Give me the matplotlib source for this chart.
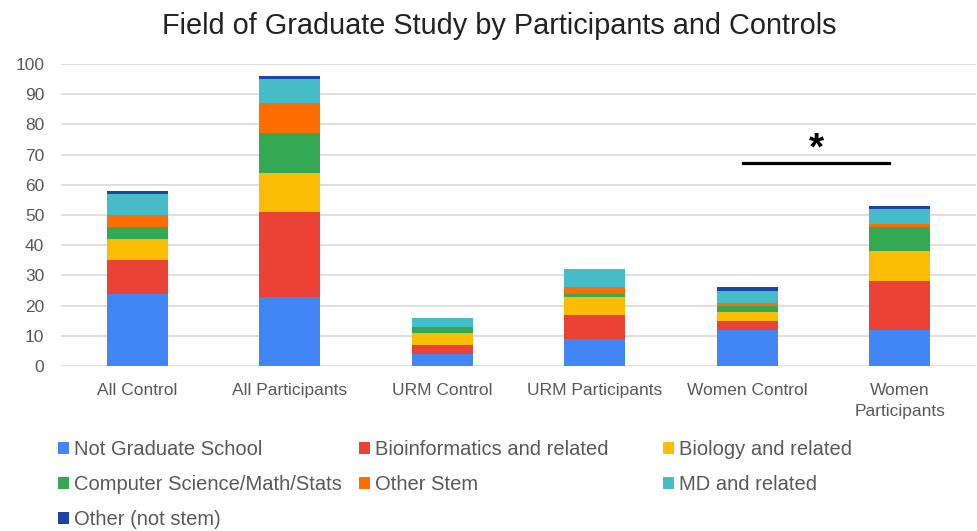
import numpy as np
import matplotlib.pyplot as plt

plt.rcParams['font.family'] = ['Liberation Sans', 'DejaVu Sans']

# Categories and counts per field of graduate study
groups = ["All Control", "All Participants", "URM Control", "URM Participants",
          "Women Control", "Women\nParticipants"]
not_grad = [24, 23, 4, 9, 12, 12]
bioinf = [11, 28, 3, 8, 3, 16]
biology = [7, 13, 4, 6, 3, 10]
cs_math = [4, 13, 2, 1, 2, 8]
other_stem = [4, 10, 0, 2, 1, 1]
md = [7, 8, 3, 6, 4, 5]
other_nonstem = [1, 1, 0, 0, 1, 1]

series = [
    ("Not Graduate School", not_grad, "#4285F4"),
    ("Bioinformatics and related", bioinf, "#EA4335"),
    ("Biology and related", biology, "#FBBC04"),
    ("Computer Science/Math/Stats", cs_math, "#34A853"),
    ("Other Stem", other_stem, "#FF6D01"),
    ("MD and related", md, "#46BDC6"),
    ("Other (not stem)", other_nonstem, "#1A45A8"),
]

# significance bracket between Women Control and Women Participants
sig_y = 67.2
sig_label = "*"

fig = plt.figure(figsize=(9.77, 5.31), dpi=100)
ax = fig.add_axes([61 / 977, 1 - 366 / 531, 915 / 977, 302 / 531])

x = np.arange(len(groups))
bottom = np.zeros(len(groups))
handles = {}
for name, vals, col in series:
    b = ax.bar(x, vals, width=0.4, bottom=bottom, color=col, label=name, zorder=3)
    handles[name] = b
    bottom += np.array(vals)

ax.set_xlim(-0.5, len(groups) - 0.5)
ax.set_ylim(0, 100)
ax.set_yticks(np.arange(0, 101, 10))
ax.grid(axis='y', color='#D9D9D9', linewidth=1.2, zorder=0)
for s in ax.spines.values():
    s.set_visible(False)
ax.tick_params(axis='both', length=0, labelsize=12.5, colors='#595959')
ax.tick_params(axis='y', pad=12)
ax.tick_params(axis='x', pad=12)
ax.set_xticks(x)
ax.set_xticklabels(groups, linespacing=1.5)

# significance marker
ax.plot([3.97, 4.93], [sig_y, sig_y], color='black', linewidth=2.3, zorder=4)
ax.text(4.455, 65.8, sig_label, ha='center', va='bottom', fontsize=28,
        fontweight='bold', color='black')

fig.suptitle("Field of Graduate Study by Participants and Controls",
             fontsize=20.8, color='#222222', x=499 / 977, y=0.978)

# legend in three fixed columns
names = [s[0] for s in series]
cols = [[names[0], names[3], names[6]], [names[1], names[4]], [names[2], names[5]]]
col_x = [58 / 977, 359 / 977, 663 / 977]
for cx, entries in zip(col_x, cols):
    leg = fig.legend([handles[n] for n in entries], entries, loc='upper left',
                     bbox_to_anchor=(cx, 1 - 440 / 531), frameon=False,
                     fontsize=14.5, handlelength=0.55, handleheight=0.55,
                     handletextpad=0.25, labelspacing=0.8, borderaxespad=0,
                     borderpad=0)
    for t in leg.get_texts():
        t.set_color('#595959')

fig.savefig("out.png", dpi=100)
